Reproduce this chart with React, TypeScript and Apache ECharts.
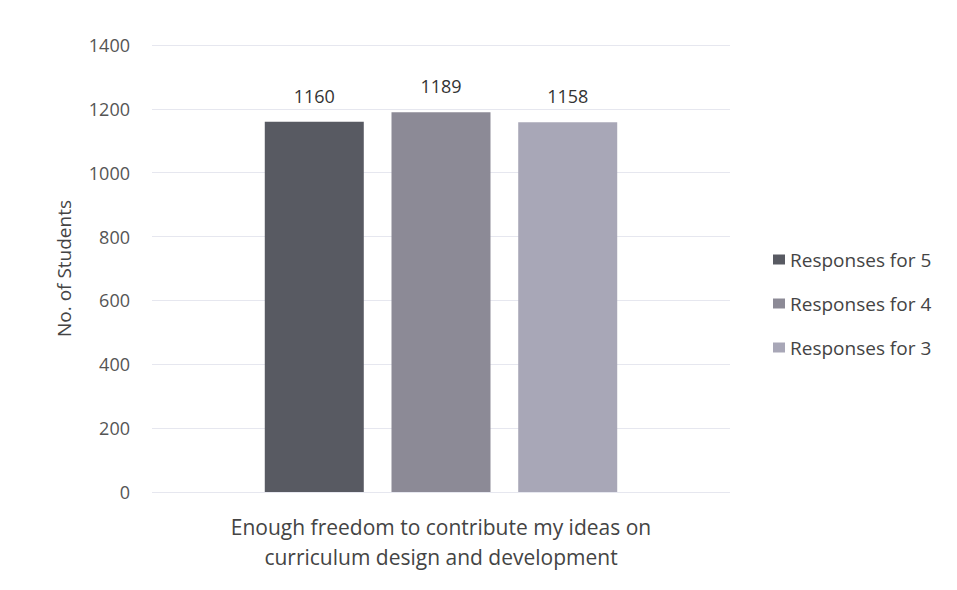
import React, { useEffect, useRef } from "react";
import * as echarts from "echarts";

const categories = ["Enough freedom to contribute my ideas on\ncurriculum design and development"];
const seriesNames = ["Responses for 5", "Responses for 4", "Responses for 3"];
const values5 = [1160];
const values4 = [1189];
const values3 = [1158];
const colors = ["#585a62", "#8c8a96", "#a8a7b7"];

export default function App() {
  const ref = useRef<HTMLDivElement>(null);
  useEffect(() => {
    if (!ref.current) return;
    const chart = echarts.init(ref.current, undefined, { renderer: "svg" });
    const font = "'Open Sans', sans-serif";
    const data = [values5, values4, values3];
    chart.setOption({
      animation: false,
      textStyle: { fontFamily: font },
      legend: {
        orient: "vertical",
        left: 760,
        top: 237,
        itemGap: 25,
        itemWidth: 12,
        itemHeight: 10,
        icon: "rect",
        textStyle: { fontSize: 19, color: "#444", fontFamily: font },
        data: seriesNames,
      },
      grid: { left: 144, right: 219, top: 37, bottom: 90 },
      xAxis: {
        type: "category",
        data: categories,
        axisLine: { show: false },
        axisTick: { show: false },
        axisLabel: { fontSize: 21, color: "#444", lineHeight: 30, margin: 20, fontFamily: font },
      },
      yAxis: {
        type: "value",
        min: 0,
        max: 1400,
        interval: 200,
        name: "No. of Students",
        nameLocation: "middle",
        nameGap: 79,
        nameTextStyle: { fontSize: 19, color: "#444", fontFamily: font },
        axisLabel: { fontSize: 18, color: "#555", margin: 22, fontFamily: font, formatter: (v: number) => String(v) },
        splitLine: { lineStyle: { color: "#e6e7ef" } },
      },
      series: seriesNames.map((n, i) => ({
        name: n,
        type: "bar",
        data: data[i],
        barWidth: 99,
        barGap: "28%",
        itemStyle: { color: colors[i] },
        label: { show: true, position: "top", distance: 17, fontSize: 18, color: "#333", fontFamily: font },
      })),
    });
    return () => chart.dispose();
  }, []);
  return <div ref={ref} style={{ width: 941, height: 574 }} />;
}
